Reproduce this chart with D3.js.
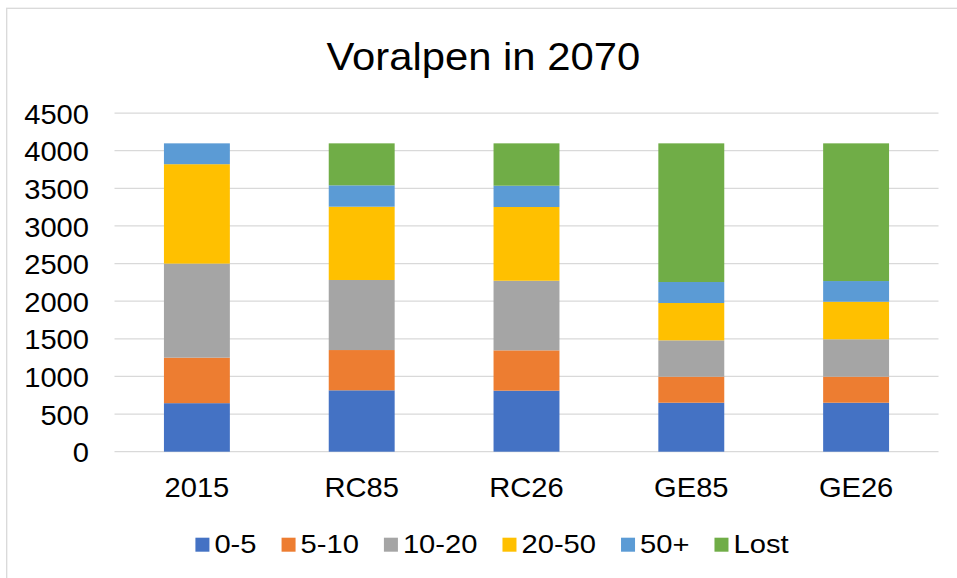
<!DOCTYPE html>
<html>
<head>
<meta charset="utf-8">
<script src="https://cdn.jsdelivr.net/npm/d3@7"></script>
<style>
  body { margin: 0; background: #fff; }
  text { font-family: "Liberation Sans", Arial, sans-serif; fill: #000; }
</style>
</head>
<body>
<svg id="chart"></svg>
<script>
const width = 957, height = 578;

// data
const categories = ["2015", "RC85", "RC26", "GE85", "GE26"];
const seriesNames = ["0-5", "5-10", "10-20", "20-50", "50+", "Lost"];
const v0_5   = [645, 816, 811, 651, 651];
const v5_10  = [605, 535, 536, 346, 346];
const v10_20 = [1250, 931, 925, 483, 497];
const v20_50 = [1321, 974, 980, 496, 499];
const v50    = [277, 284, 283, 279, 275];
const vLost  = [0, 558, 563, 1843, 1830];
const yTicks = [0, 500, 1000, 1500, 2000, 2500, 3000, 3500, 4000, 4500];
const colors = ["#4472C4", "#ED7D31", "#A5A5A5", "#FFC000", "#5B9BD5", "#70AD47"];

const rows = categories.map((c, i) => ({
    cat: c,
    "0-5": v0_5[i], "5-10": v5_10[i], "10-20": v10_20[i],
    "20-50": v20_50[i], "50+": v50[i], "Lost": vLost[i]
}));

const svg = d3.select("#chart")
    .attr("width", width)
    .attr("height", height);

// chart border (right/bottom edges fall outside the picture)
svg.append("rect")
    .attr("x", 6.7).attr("y", 8.3)
    .attr("width", 1000).attr("height", 1000)
    .attr("fill", "none")
    .attr("stroke", "#d9d9d9")
    .attr("stroke-width", 1.3);

const x = d3.scaleBand()
    .domain(categories)
    .range([114.5, 938.5])
    .paddingInner(0.6)
    .paddingOuter(0.3);

const y = d3.scaleLinear()
    .domain([0, 4500])
    .range([451.7, 113.1]);

// gridlines
svg.append("g")
    .selectAll("line")
    .data(yTicks)
    .enter()
    .append("line")
    .attr("x1", 114.5).attr("x2", 938.5)
    .attr("y1", d => y(d)).attr("y2", d => y(d))
    .attr("stroke", "#d9d9d9")
    .attr("stroke-width", 1.3);

// y axis labels
const yAxis = d3.axisLeft(y)
    .tickValues(yTicks)
    .tickFormat(d3.format("d"))
    .tickSize(0)
    .tickPadding(0);
svg.append("g")
    .attr("transform", "translate(89,0)")
    .call(yAxis)
    .call(g => g.select(".domain").remove())
    .selectAll("text")
    .attr("font-size", "28px")
    .attr("font-family", "Liberation Sans, Arial, sans-serif")
    .attr("fill", "#000")
    .attr("x", 0)
    .attr("dy", "0.36em")
    .attr("transform", "scale(1.04,1)");

// stacked bars
const stack = d3.stack().keys(seriesNames)(rows);
svg.append("g")
    .selectAll("g")
    .data(stack)
    .enter()
    .append("g")
    .attr("fill", (d, i) => colors[i])
    .selectAll("rect")
    .data(d => d)
    .enter()
    .append("rect")
    .attr("x", d => x(d.data.cat))
    .attr("width", x.bandwidth())
    .attr("y", d => y(d[1]))
    .attr("height", d => y(d[0]) - y(d[1]));

// x axis labels
const xAxis = d3.axisBottom(x).tickSize(0).tickPadding(0);
svg.append("g")
    .attr("transform", "translate(0,497)")
    .call(xAxis)
    .call(g => g.select(".domain").remove())
    .selectAll(".tick text")
    .attr("font-size", "28px")
    .attr("font-family", "Liberation Sans, Arial, sans-serif")
    .attr("fill", "#000")
    .attr("y", 0)
    .attr("dy", 0)
    .attr("transform", "scale(1.04,1)");

// title
svg.append("text")
    .attr("transform", "translate(483.3,70) scale(1.1,1)")
    .attr("text-anchor", "middle")
    .attr("font-size", "38px")
    .text("Voralpen in 2070");

// legend
const legSx = 1.1;
const legend = svg.append("g");
const items = legend.selectAll("g")
    .data(seriesNames)
    .enter()
    .append("g");
items.append("rect")
    .attr("width", 14).attr("height", 14)
    .attr("y", 537.7)
    .attr("fill", (d, i) => colors[i]);
items.append("text")
    .attr("font-size", "26.5px")
    .text(d => d);

let cx = 0;
const pos = [];
items.each(function(d) {
    const w = d3.select(this).select("text").node().getComputedTextLength() * legSx;
    pos.push(cx);
    cx += 14 + 5 + w + 25;
});
const total = cx - 25;
const start = 492 - total / 2;
items.each(function(d, i) {
    const g = d3.select(this);
    g.select("rect").attr("x", start + pos[i]);
    g.select("text").attr("transform",
        "translate(" + (start + pos[i] + 19) + ",553.3) scale(" + legSx + ",1)");
});
</script>
</body>
</html>
